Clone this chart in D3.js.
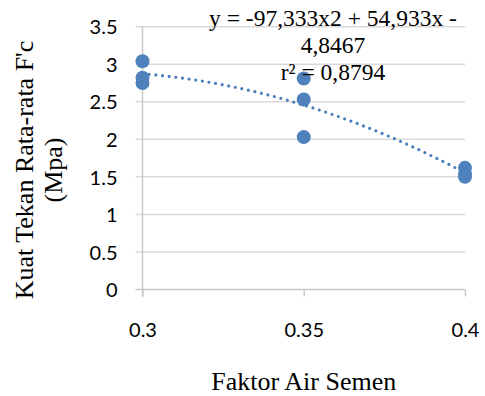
<!DOCTYPE html>
<html>
<head>
<meta charset="utf-8">
<script src="https://cdn.jsdelivr.net/npm/d3@7"></script>
<style>
  body { margin: 0; background: #fff; }
  .tick text { font-family: Lato, "Open Sans", sans-serif; font-size: 20px; fill: #000; }
</style>
</head>
<body>
<div id="chart"></div>
<script>
// data
const faktorAir = [0.3, 0.3, 0.3, 0.35, 0.35, 0.35, 0.4, 0.4, 0.4]
const kuatTekan = [3.04, 2.82, 2.75, 2.81, 2.53, 2.03, 1.62, 1.54, 1.50]
const xTicks = [0.3, 0.35, 0.4]
const yTicks = [0, 0.5, 1, 1.5, 2, 2.5, 3, 3.5]
// polynomial trendline (order 2) as printed on the chart
const trendCoef = [-97.333, 54.933, -4.8467]
const eqLines = ["y = -97,333x2 + 54,933x -", "4,8467", "r² = 0,8794"]

const width = 485, height = 396
const plotLeft = 142.5, plotRight = 465, plotTop = 26.7, plotBottom = 289.5
const serif = "'Liberation Serif', 'Times New Roman', serif"

const svg = d3.select("#chart").append("svg")
  .attr("width", width).attr("height", height)

const x = d3.scaleLinear().domain([0.3, 0.4]).range([plotLeft, plotRight])
const y = d3.scaleLinear().domain([0, 3.5]).range([plotBottom, plotTop])

// horizontal gridlines (with the little tick stubs on the left)
svg.append("g").selectAll("line").data(yTicks.slice(1)).enter().append("line")
  .attr("x1", plotLeft - 7).attr("x2", plotRight)
  .attr("y1", d => y(d)).attr("y2", d => y(d))
  .attr("stroke", "#d9d9d9").attr("stroke-width", 1.5)

// y axis labels
const yAxis = svg.append("g").attr("transform", "translate(" + plotLeft + ",0)")
  .call(d3.axisLeft(y).tickValues(yTicks).tickSize(0).tickPadding(25).tickFormat(d3.format("")))
yAxis.select(".domain").remove()
yAxis.selectAll(".tick text").attr("dy", "0.36em")
// y axis line
svg.append("line").attr("x1", plotLeft).attr("x2", plotLeft).attr("y1", plotTop).attr("y2", plotBottom + 7)
  .attr("stroke", "#c8c8c8").attr("stroke-width", 1.5)
svg.append("line").attr("x1", plotLeft - 7).attr("x2", plotLeft).attr("y1", plotBottom).attr("y2", plotBottom)
  .attr("stroke", "#c8c8c8").attr("stroke-width", 1.5)

// x axis
const xAxis = svg.append("g").attr("transform", "translate(0," + plotBottom + ")")
  .call(d3.axisBottom(x).tickValues(xTicks).tickSize(7).tickFormat(d3.format("")))
xAxis.select(".domain").attr("stroke", "#c8c8c8").attr("stroke-width", 1.5)
  .attr("d", "M" + plotLeft + ",0H" + plotRight)
xAxis.selectAll(".tick line").attr("stroke", "#c8c8c8").attr("stroke-width", 1.5)
xAxis.selectAll(".tick text").attr("y", 47.5).attr("dy", 0)

// trendline (dotted)
const poly = v => trendCoef[0] * v * v + trendCoef[1] * v + trendCoef[2]
const trendX = d3.range(0.3, 0.40001, 0.002)
const line = d3.line().x(d => x(d)).y(d => y(poly(d))).curve(d3.curveMonotoneX)
svg.append("path").datum(trendX).attr("d", line)
  .attr("fill", "none").attr("stroke", "#4a7ebb").attr("stroke-width", 3.2)
  .attr("stroke-linecap", "round").attr("stroke-dasharray", "0,6.7")

// markers
svg.append("g").selectAll("circle").data(kuatTekan).enter().append("circle")
  .attr("cx", (d, i) => x(faktorAir[i])).attr("cy", d => y(d))
  .attr("r", 7).attr("fill", "#4f81bd")

// trendline label
svg.append("text").style("font-family", serif).style("font-size", "23.5px")
  .attr("text-anchor", "middle").attr("fill", "#000")
  .selectAll("tspan").data(eqLines).enter().append("tspan")
  .attr("x", 333).attr("y", (d, i) => 26 + i * 27).text(d => d)

// axis titles
svg.append("text").style("font-family", serif).style("font-size", "26px")
  .attr("fill", "#000")
  .attr("text-anchor", "middle").attr("x", (plotLeft + plotRight) / 2).attr("y", 390)
  .text("Faktor Air Semen")

const yTitle = svg.append("text").style("font-family", serif).style("font-size", "26px")
  .attr("fill", "#000")
  .attr("text-anchor", "middle").attr("transform", "translate(33,170) rotate(-90)")
yTitle.append("tspan").attr("x", 0).attr("y", 0).text("Kuat Tekan Rata-rata F'c")
yTitle.append("tspan").attr("x", 0).attr("y", 29).text("(Mpa)")
</script>
</body>
</html>
